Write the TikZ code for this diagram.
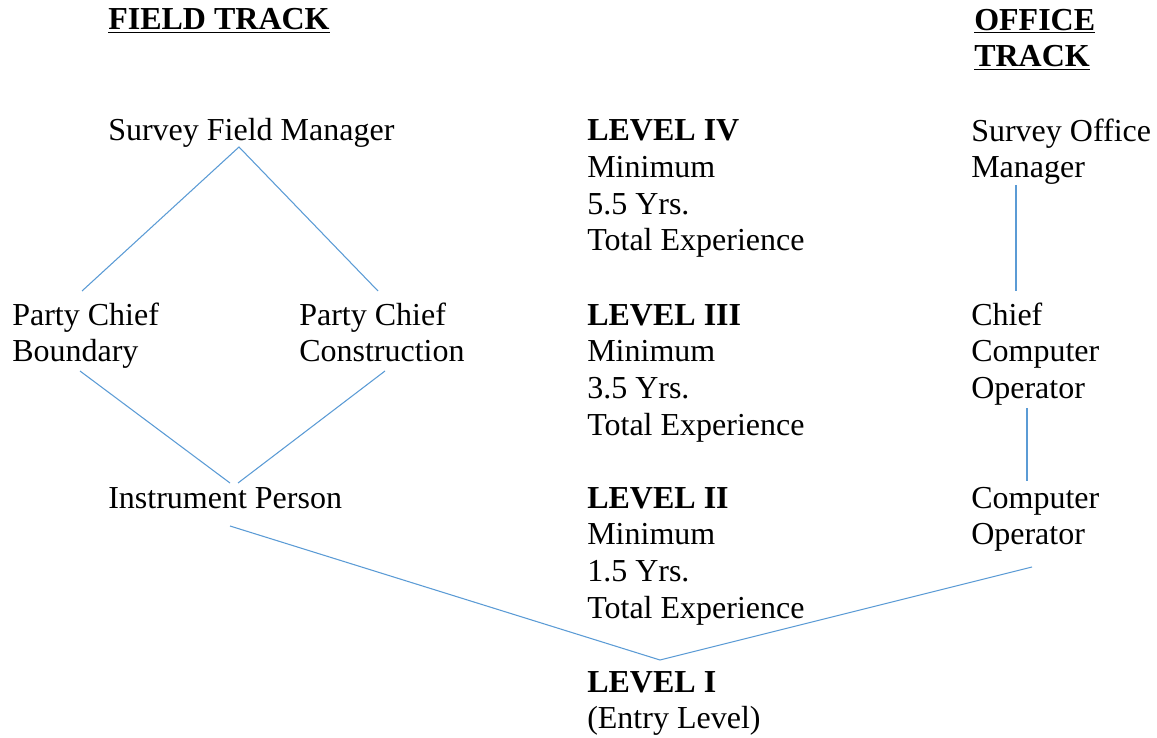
\documentclass[tikz,border=0pt]{standalone}
\usepackage{fontspec}
\setmainfont{Liberation Serif}
\usepackage{xcolor}
\definecolor{linkblue}{RGB}{91,155,213}

\begin{document}
\begin{tikzpicture}[x=0.75pt, y=-0.75pt, every node/.style={inner sep=0pt, anchor=base west, align=left, font=\fontsize{24}{27.5}\selectfont}, link/.style={draw=linkblue, line width=0.8pt}]

\useasboundingbox (0,0) rectangle (1157,738);

\node (FT) at (108,30) {\underline{\textbf{FIELD TRACK}}};
\node (OT) at (974,66.7) {\underline{\textbf{OFFICE}}\\\underline{\textbf{TRACK}}};

\node (SFM) at (108,141) {Survey Field Manager};
\node (PCB) at (12,361.7) {Party Chief\\Boundary};
\node (PCC) at (299,361.7) {Party Chief\\Construction};
\node (IP) at (108,508) {Instrument Person};

\node (L4) at (587,251) {\textbf{LEVEL IV}\\Minimum\\5.5 Yrs.\\Total Experience};
\node (L3) at (587,435) {\textbf{LEVEL III}\\Minimum\\3.5 Yrs.\\Total Experience};
\node (L2) at (587,618) {\textbf{LEVEL II}\\Minimum\\1.5 Yrs.\\Total Experience};
\node (L1) at (587,728.7) {\textbf{LEVEL I}\\(Entry Level)};

\node (SOM) at (971,177.7) {Survey Office\\Manager};
\node (CCO) at (971,398.4) {Chief\\Computer\\Operator};
\node (CO) at (971,544.7) {Computer\\Operator};

\coordinate (SFM-b) at (239,147);
\coordinate (PCB-t) at (82,291);
\coordinate (PCC-t) at (378,291);
\coordinate (PCB-b) at (80,371);
\coordinate (PCC-b) at (385,371);
\coordinate (IP-t) at (230,483);
\coordinate (IP-u) at (238,483);
\coordinate (IP-b) at (230,526);
\coordinate (L1-t) at (660,660);
\coordinate (CO-b) at (1032,567);
\coordinate (SOM-b) at (1016,185);
\coordinate (CCO-t) at (1016,291);
\coordinate (CCO-b) at (1027,408);
\coordinate (CO-t) at (1027,481);

\draw[link] (PCB-t) -- (SFM-b) -- (PCC-t);
\draw[link] (PCB-b) -- (IP-t);
\draw[link] (PCC-b) -- (IP-u);
\draw[link] (IP-b) -- (L1-t) -- (CO-b);
\draw[link] (SOM-b) -- (CCO-t);
\draw[link] (CCO-b) -- (CO-t);
\end{tikzpicture}
\end{document}
